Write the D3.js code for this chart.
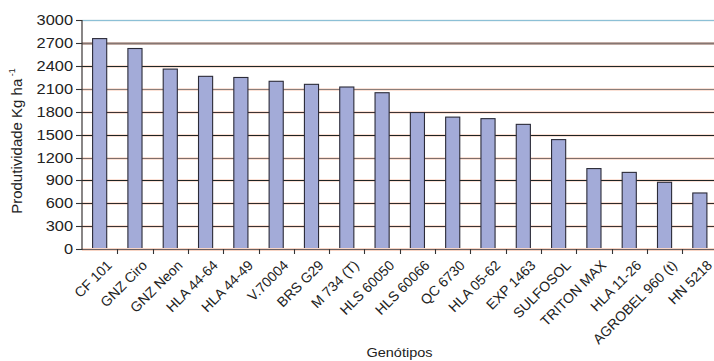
<!DOCTYPE html>
<html><head><meta charset="utf-8">
<script src="https://cdn.jsdelivr.net/npm/d3@7"></script>
<style>
html,body{margin:0;padding:0;background:#fff;overflow:hidden}
text{font-family:"Liberation Sans",Arial,sans-serif;fill:#222}
</style></head>
<body><svg id="c" width="714" height="361"></svg>
<script>
const categories = ["CF 101","GNZ Ciro","GNZ Neon","HLA 44-64","HLA 44-49","V.70004","BRS G29","M 734 (T)","HLS 60050","HLS 60066","QC 6730","HLA 05-62","EXP 1463","SULFOSOL","TRITON MAX","HLA 11-26","AGROBEL 960 (t)","HN 5218"];
const values = [2760,2630,2360,2265,2250,2200,2160,2125,2050,1790,1730,1710,1635,1435,1055,1005,875,735];
const yTicks = [0,300,600,900,1200,1500,1800,2100,2400,2700,3000];
const gridColors = {3000:"#8cc0d6",2700:"#857672",2400:"#1e2828",2100:"#8a7e7a",1800:"#3e3434",1500:"#1e2424",1200:"#7e6e6a",900:"#1e2424",600:"#2e2a2a",300:"#3a3434"};
const gridWidths = {2700:2};
const yTitle = "Produtividade Kg ha";
const xTitle = "Genótipos";

const svg = d3.select("#c");
const x = d3.scaleBand().domain(categories).range([82,717.5]).paddingInner(0.6).paddingOuter(0.3);
const y = d3.scaleLinear().domain([0,3000]).range([249,20.3]);
const step = x.step();

// gridlines
const g = svg.append("g");
yTicks.filter(t=>t>0).forEach(t=>{
  const yy = Math.round(y(t))+0.5;
  g.append("line").attr("x1",82).attr("x2",714).attr("y1",yy).attr("y2",yy)
    .attr("stroke", t===3000 ? "#eef4f6" : "#fbe1d6").attr("stroke-width",3);
  g.append("line").attr("x1",82).attr("x2",714).attr("y1",yy).attr("y2",yy)
    .attr("stroke",gridColors[t]).attr("stroke-width",gridWidths[t]||1.1);
});

// bars
svg.append("g").selectAll("rect").data(categories).join("rect")
  .attr("x",d=>x(d)).attr("width",x.bandwidth())
  .attr("y",(d,i)=>y(values[i])).attr("height",(d,i)=>y(0)-y(values[i]))
  .attr("fill","#a3abd8").attr("stroke","#2b2b38").attr("stroke-width",1.1);

// axes lines
svg.append("line").attr("x1",82).attr("x2",714).attr("y1",249.5).attr("y2",249.5).attr("stroke","#f8d4c4").attr("stroke-width",3);
svg.append("line").attr("x1",82).attr("x2",714).attr("y1",249.5).attr("y2",249.5).attr("stroke","#6a6060").attr("stroke-width",1.2);
svg.append("line").attr("x1",82).attr("x2",82).attr("y1",20).attr("y2",250).attr("stroke","#3a3434").attr("stroke-width",1.2);

// y ticks & labels
const ya = svg.append("g");
yTicks.forEach(t=>{
  const yy = Math.round(y(t))+0.5;
  ya.append("line").attr("x1",76).attr("x2",82).attr("y1",yy).attr("y2",yy).attr("stroke","#333").attr("stroke-width",1.1);
  ya.append("text").attr("transform",`translate(73,${y(t)}) scale(1.17,1)`)
    .attr("text-anchor","end").attr("dy","0.36em").attr("font-size",14).text(t);
});

// x ticks (category boundaries)
const xa = svg.append("g");
for(let i=1;i<=categories.length;i++){
  const xx = Math.round(82 + i*step)+0.5;
  xa.append("line").attr("x1",xx).attr("x2",xx).attr("y1",249).attr("y2",254).attr("stroke","#333").attr("stroke-width",1.1);
}
xa.selectAll("text").data(categories).join("text")
  .attr("transform",d=>`translate(${x(d)+x.bandwidth()/2+6},259) rotate(-45)`)
  .attr("text-anchor","end").attr("dy","0.72em").attr("font-size",14).text(d=>d);

// titles
svg.append("text").attr("transform","translate(399.5,357) scale(1.16,1)").attr("text-anchor","middle")
  .attr("font-size",12.5).text(xTitle);
const yt = svg.append("text").attr("transform","translate(22,141) rotate(-90)").attr("text-anchor","middle").attr("font-size",15);
yt.append("tspan").text(yTitle);
yt.append("tspan").attr("font-size",9).attr("dy",-7).text(" -1");
</script></body></html>
